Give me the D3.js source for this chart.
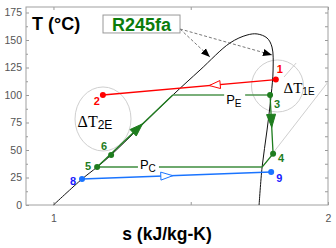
<!DOCTYPE html>
<html><head><meta charset="utf-8">
<script src="https://cdn.jsdelivr.net/npm/d3@7"></script>
<style>body{margin:0;background:#fff} svg{display:block}</style>
</head><body>
<svg id="c" width="336" height="248"></svg>
<script>
// ---- data (s in kJ/kg-K, T in °C) ----
const domeS = [1.0, 1.104, 1.159, 1.21, 1.435, 1.534, 1.643, 1.705, 1.742, 1.778, 1.796, 1.80, 1.793, 1.778, 1.76, 1.749];
const domeT = [0, 23.6, 34.5, 45.5, 100, 122.7, 147.3, 154.5, 155.5, 151.8, 143.6, 122.7, 100, 68.2, 34.5, 0];
const pointNames = ["1", "2", "3", "4", "5", "6", "8", "9"];
const pointS = [1.81, 1.18, 1.789, 1.80, 1.159, 1.21, 1.104, 1.793];
const pointT = [114, 100, 100, 46.5, 34.5, 45.5, 23.6, 30];
const redS = [1.18, 1.81];
const redT = [100, 114];
const greenS = [1.159, 1.435, 1.789, 1.80, 1.76, 1.159];
const greenT = [34.5, 100, 100, 46.5, 34.5, 34.5];
const blueS = [1.104, 1.793];
const blueT = [23.6, 30];
const yTicks = [0, 25, 50, 75, 100, 125, 150, 175];
const yMinorTicks = [12.5, 37.5, 62.5, 87.5, 112.5, 137.5, 162.5];
const yRightTicks = [12.5, 25, 37.5, 50, 62.5, 75, 87.5, 100, 112.5, 125, 137.5, 150, 162.5, 175];
const xTicks = [1, 1.5, 2];
const xTickLabels = ["1", "", "2"];

// ---- layout ----
const L = 26, R = 328, T0 = 7, B = 205;
const x = d3.scaleLinear().domain([0.9, 2.0]).range([L, R]);
const y = d3.scaleLinear().domain([0, 180]).range([B, T0]);
const svg = d3.select("#c");
const SANS = "'Liberation Sans', Arial, sans-serif";
const SERIF = "'Liberation Serif', 'Times New Roman', serif";
const GREEN = "#1e7d1e", RED = "#ff0000", BLUE = "#1a74ff";

// axes
function styleAxis(g) {
  g.select(".domain").remove();
  g.selectAll(".tick line").attr("stroke", "#999");
  g.selectAll(".tick text").attr("fill", "#555").style("font", `10.5px ${SANS}`);
}
svg.append("g").attr("transform", `translate(${L},0)`)
  .call(d3.axisLeft(y).tickValues(yTicks).tickSize(-3).tickPadding(4).tickFormat(d3.format("d"))).call(styleAxis);
svg.append("g").attr("transform", `translate(${L},0)`)
  .call(d3.axisLeft(y).tickValues(yMinorTicks).tickSize(-2).tickFormat("")).call(styleAxis);
svg.append("g").attr("transform", `translate(${R},0)`)
  .call(d3.axisRight(y).tickValues(yRightTicks).tickSize(-3).tickFormat("")).call(styleAxis);
svg.append("g").attr("transform", `translate(0,${B})`)
  .call(d3.axisBottom(x).tickValues(xTicks).tickSize(-3).tickPadding(10).tickFormat((d, i) => xTickLabels[i])).call(styleAxis);
svg.append("g").attr("transform", `translate(0,${T0})`)
  .call(d3.axisTop(x).tickValues(xTicks).tickSize(-3).tickFormat("")).call(styleAxis);
svg.append("rect").attr("x", L).attr("y", T0).attr("width", R - L).attr("height", B - T0)
  .attr("fill", "none").attr("stroke", "#a0a0a0").attr("stroke-width", 1);

// axis titles
svg.append("text").attr("x", 32).attr("y", 30).text("T (°C)")
  .style("font", `bold 18px ${SANS}`).attr("fill", "#000");
svg.append("text").attr("x", 167).attr("y", 240).attr("text-anchor", "middle").text("s (kJ/kg-K)")
  .style("font", `bold 17.5px ${SANS}`).attr("fill", "#000");

// light gray annotations
const ann = svg.append("g").attr("fill", "none").attr("stroke", "#cfcfcf").attr("stroke-width", 1);
ann.append("ellipse").attr("cx", x(1.1805)).attr("cy", y(78.2)).attr("rx", 28).attr("ry", 32);
ann.append("circle").attr("cx", x(1.816)).attr("cy", y(108.2)).attr("r", 26);
ann.append("line").attr("x1", x(1.76)).attr("y1", y(34.5)).attr("x2", x(2.0)).attr("y2", y(111.8));
ann.append("line").attr("x1", x(1.84)).attr("y1", y(116.4)).attr("x2", x(1.884)).attr("y2", y(129.1));

// dome
const dome = domeS.map((s, i) => [s, domeT[i]]);
svg.append("path").datum(dome)
  .attr("d", d3.line().x(d => x(d[0])).y(d => y(d[1])).curve(d3.curveCatmullRom.alpha(0.5)))
  .attr("fill", "none").attr("stroke", "#111").attr("stroke-width", 1);

// label box R245fa
const bx0 = x(1.1805), by0 = y(172.7), bx1 = x(1.461), by1 = y(156.4);
const defs = svg.append("defs");
defs.append("marker").attr("id", "ah").attr("viewBox", "0 0 10 10").attr("refX", 10).attr("refY", 5)
  .attr("markerWidth", 9).attr("markerHeight", 9).attr("markerUnits", "userSpaceOnUse").attr("orient", "auto")
  .append("path").attr("d", "M0,1 L10,5 L0,9 Z").attr("fill", "#000");
[[1.570, 134.5], [1.796, 136.4]].forEach(t => {
  svg.append("line").attr("x1", bx1).attr("y1", y(160)).attr("x2", x(t[0])).attr("y2", y(t[1]))
    .attr("stroke", "#555").attr("stroke-width", 0.8).attr("stroke-dasharray", "3,2").attr("marker-end", "url(#ah)");
});
svg.append("rect").attr("x", bx0).attr("y", by0).attr("width", bx1 - bx0).attr("height", by1 - by0)
  .attr("fill", "#fff").attr("stroke", "#999").attr("stroke-width", 1);
svg.append("text").attr("x", (bx0 + bx1) / 2).attr("y", by1 - 1.5).attr("text-anchor", "middle").text("R245fa")
  .style("font", `bold 18px ${SANS}`).attr("fill", "#0c7c0c");

const lineGen = d3.line().x(d => x(d[0])).y(d => y(d[1]));
// green cycle
const green = greenS.map((s, i) => [s, greenT[i]]);
svg.append("path").datum(green.slice(0, 2)).attr("d", lineGen).attr("fill", "none").attr("stroke", GREEN).attr("stroke-width", 1.3);
svg.append("path").datum(green.slice(1, 3)).attr("d", lineGen).attr("fill", "none").attr("stroke", "#4e944e").attr("stroke-width", 1.4);
svg.append("path").datum(green.slice(2, 5)).attr("d", lineGen).attr("fill", "none").attr("stroke", GREEN).attr("stroke-width", 1.3);
svg.append("path").datum(green.slice(4, 6)).attr("d", lineGen).attr("fill", "none").attr("stroke", "#3e8c3e").attr("stroke-width", 1.4);
// red, blue
const red = redS.map((s, i) => [s, redT[i]]);
svg.append("path").datum(red).attr("d", lineGen).attr("fill", "none").attr("stroke", RED).attr("stroke-width", 1.4);
const blue = blueS.map((s, i) => [s, blueT[i]]);
svg.append("path").datum(blue).attr("d", lineGen).attr("fill", "none").attr("stroke", BLUE).attr("stroke-width", 1.4);

// arrowheads along segments
function arrow(p, q, frac, len, hw, fill, stroke) {
  const x1 = x(p[0]), y1 = y(p[1]), x2 = x(q[0]), y2 = y(q[1]);
  const dx = x2 - x1, dy = y2 - y1, d = Math.hypot(dx, dy);
  const ux = dx / d, uy = dy / d;
  const tx = x1 + dx * frac, ty = y1 + dy * frac;
  const bxp = tx - ux * len, byp = ty - uy * len;
  const pts = [[tx, ty], [bxp - uy * hw, byp + ux * hw], [bxp + uy * hw, byp - ux * hw]];
  svg.append("path").attr("d", "M" + pts.map(p => p.join(",")).join("L") + "Z")
    .attr("fill", fill).attr("stroke", stroke).attr("stroke-width", 1);
}
arrow(red[1], red[0], 0.385, 11, 4, "#fff", RED);
arrow(blue[0], blue[1], 0.48, 12, 4, "#fff", BLUE);
arrow(green[0], green[1], 0.60, 13, 4.5, GREEN, GREEN);
arrow(green[2], green[3], 0.55, 13, 4.5, GREEN, GREEN);

// pressure labels
function pLabel(s, t, sub) {
  const px = x(s), py = y(t);
  svg.append("rect").attr("x", px - 2).attr("y", py - 10).attr("width", 21).attr("height", 13).attr("fill", "#fff");
  const tx = svg.append("text").attr("x", px).attr("y", py).style("font", `13px ${SANS}`).attr("fill", "#000");
  tx.append("tspan").text("P");
  tx.append("tspan").attr("dy", 3).style("font-size", "10px").text(sub);
}
pLabel(1.629, 91.8, "E");
pLabel(1.315, 32.7, "C");

// ΔT labels
function dtLabel(s, t, sub, fs, sfs) {
  const tx = svg.append("text").attr("x", x(s)).attr("y", y(t)).attr("fill", "#000");
  tx.append("tspan").style("font", `${fs}px ${SERIF}`).text("ΔT");
  tx.append("tspan").attr("dy", 2).style("font", `${sfs}px ${SANS}`).text(sub);
}
dtLabel(1.088, 70.9, "2E", 16, 12);
dtLabel(1.838, 101.8, "1E", 15, 10);

// points
const pointColor = {"1": RED, "2": RED, "3": GREEN, "4": GREEN, "5": GREEN, "6": GREEN, "8": BLUE, "9": BLUE};
const labelColor = {"1": RED, "2": RED, "3": "#1e7d1e", "4": "#1e7d1e", "5": "#1e7d1e", "6": "#1e7d1e", "8": "#1a1aff", "9": "#1a1aff"};
const labelOff = {"1": [1, -7, "start"], "2": [-3, 10, "end"], "3": [4, 13, "start"], "4": [5, 8, "start"],
  "5": [-6, 3, "end"], "6": [-4, -5, "end"], "8": [-6, 6, "end"], "9": [5, 10, "start"]};
pointNames.forEach((n, i) => {
  const px = x(pointS[i]), py = y(pointT[i]);
  svg.append("circle").attr("cx", px).attr("cy", py).attr("r", 3).attr("fill", pointColor[n]);
  const o = labelOff[n];
  svg.append("text").attr("x", px + o[0]).attr("y", py + o[1]).attr("text-anchor", o[2]).text(n)
    .style("font", `bold 11px ${SANS}`).attr("fill", labelColor[n]);
});
</script>
</body></html>
